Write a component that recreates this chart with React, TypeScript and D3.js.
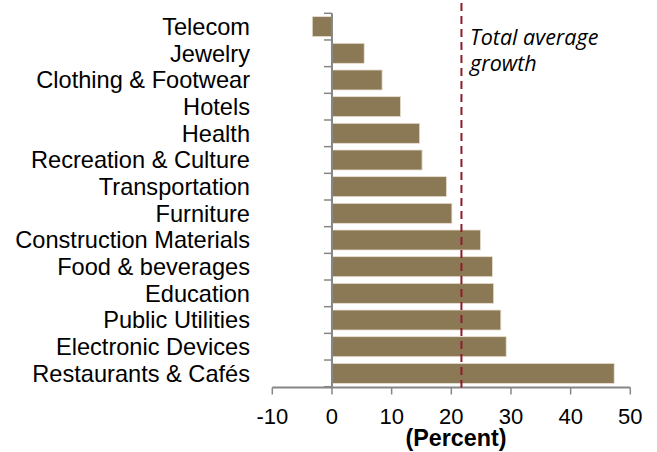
import React from "react";
import * as d3 from "d3";

const categories = [
  "Telecom",
  "Jewelry",
  "Clothing & Footwear",
  "Hotels",
  "Health",
  "Recreation & Culture",
  "Transportation",
  "Furniture",
  "Construction Materials",
  "Food & beverages",
  "Education",
  "Public Utilities",
  "Electronic Devices",
  "Restaurants & Cafés",
];
const growth = [-3.3, 5.4, 8.4, 11.5, 14.7, 15.1, 19.2, 20.1, 24.9, 26.9, 27.1, 28.3, 29.2, 47.3];
const averageGrowth = 21.7;
const xTicks = [-10, 0, 10, 20, 30, 40, 50];
const xTitle = "(Percent)";
const annotation = ["Total average", "growth"];

export default function App() {
  const W = 657;
  const H = 452;
  const x = d3.scaleLinear().domain([-10, 50]).range([272.3, 630.3]);
  const y = d3
    .scaleBand<string>()
    .domain(categories)
    .range([13.3, 386.7])
    .paddingInner(0.25)
    .paddingOuter(0.125);
  const axisY = 387.5;
  const gray = "#868686";
  const labelFont = "Liberation Sans, Arial, sans-serif";
  const step = y.step();
  const boundaries = d3.range(categories.length + 1).map((i) => 13.3 + i * step);

  return (
    <svg
      width={W}
      height={H}
      style={{ position: "absolute", left: 0, top: 0, background: "#fff" }}
    >
      {categories.map((c, i) => {
        const v = growth[i];
        return (
          <rect
            key={c}
            x={x(Math.min(0, v))}
            y={y(c)!}
            width={Math.abs(x(v) - x(0))}
            height={y.bandwidth()}
            fill="#8B7855"
            stroke="#E8E0D0"
            strokeWidth={0.8}
          />
        );
      })}
      {/* category axis */}
      <line x1={x(0)} x2={x(0)} y1={13.3} y2={axisY} stroke={gray} strokeWidth={2} />
      {boundaries.map((b, i) => (
        <line key={i} x1={x(0) - 8} x2={x(0)} y1={b} y2={b} stroke={gray} strokeWidth={1.5} />
      ))}
      {categories.map((c) => (
        <text
          key={c}
          x={250}
          y={y(c)! + y.bandwidth() / 2}
          dy="0.35em"
          textAnchor="end"
          fontFamily={labelFont}
          fontSize={23.6}
          fill="#000"
        >
          {c}
        </text>
      ))}
      {/* x axis */}
      <line x1={x(-10)} x2={x(50)} y1={axisY} y2={axisY} stroke={gray} strokeWidth={2} />
      {xTicks.map((t) => (
        <g key={t}>
          <line x1={x(t)} x2={x(t)} y1={axisY} y2={axisY + 7} stroke={gray} strokeWidth={1.5} />
          <text
            x={x(t)}
            y={423.5}
            textAnchor="middle"
            fontFamily={labelFont}
            fontSize={22}
            fill="#000"
          >
            {t}
          </text>
        </g>
      ))}
      <text
        x={456}
        y={446}
        textAnchor="middle"
        fontFamily={labelFont}
        fontSize={23.3}
        fontWeight="bold"
        fill="#000"
      >
        {xTitle}
      </text>
      {/* average line */}
      <line
        x1={x(averageGrowth)}
        x2={x(averageGrowth)}
        y1={3}
        y2={axisY}
        stroke="#8E1B2C"
        strokeWidth={2}
        strokeDasharray="8,5"
      />
      {annotation.map((a, i) => (
        <text
          key={a}
          x={470}
          y={45 + i * 25.5}
          fontFamily="Open Sans, sans-serif"
          fontStyle="italic"
          fontSize={21.5}
          fill="#000"
        >
          {a}
        </text>
      ))}
    </svg>
  );
}
